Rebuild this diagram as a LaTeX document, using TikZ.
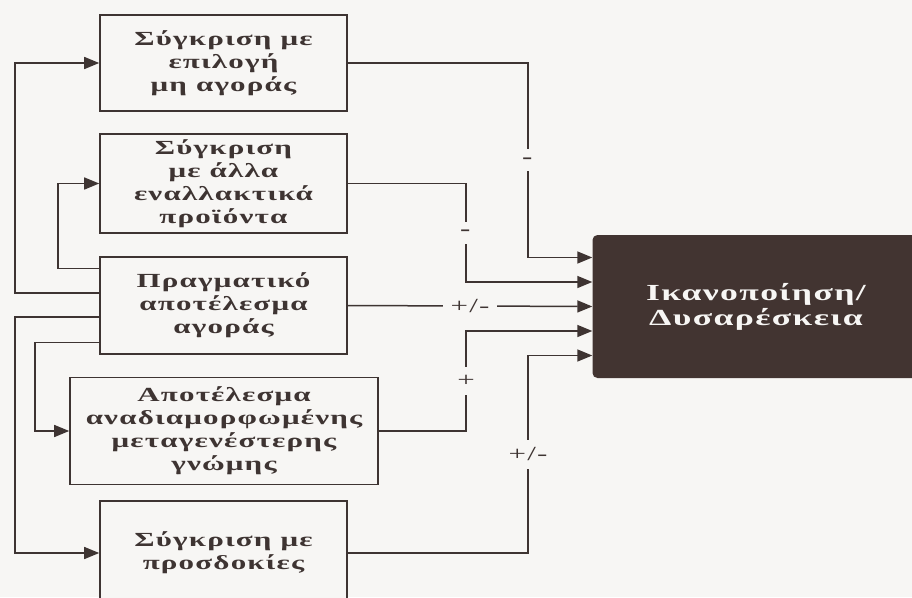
\documentclass[tikz,border=0pt]{standalone}
\usepackage{fontspec}
\setmainfont{Liberation Serif}[FakeStretch=1.55,LetterSpace=6]
\usetikzlibrary{calc,arrows.meta}
\definecolor{papel}{RGB}{247,246,244}
\definecolor{tinta}{RGB}{62,52,50}
\definecolor{escuro}{RGB}{66,52,49}

\begin{document}
\begin{tikzpicture}[x=1pt,y=-1pt,
  caixa/.style={draw=tinta, line width=1.6pt, fill=papel, text=tinta,
    font=\bfseries\fontsize{20}{23}\selectfont, align=center,
    inner sep=0pt, minimum width=247pt},
  fluxo/.style={draw=tinta, line width=1.5pt,
    -{Stealth[inset=0pt,length=15pt,width=12pt]}},
  sinal/.style={fill=papel, text=tinta, font=\fontsize{20}{22}\selectfont,
    inner sep=8pt}]
  \useasboundingbox (0,0) rectangle (912,597);
  \fill[papel] (0,0) rectangle (912,597);
  \begin{scope}
  \clip (0,0) rectangle (912,597);

  % Caixas da esquerda, de cima para baixo.
  \node[caixa, minimum height=96pt] (naoCompra) at (223.5,63)
    {Σύγκριση με\\επιλογή\\μη αγοράς};
  \node[caixa, minimum height=99pt] (alternativas) at (223.5,183.5)
    {Σύγκριση\\με άλλα\\εναλλακτικά\\προϊόντα};
  \node[caixa, minimum height=97pt] (real) at (223.5,305.5)
    {Πραγματικό\\αποτέλεσμα\\αγοράς};
  \node[caixa, minimum width=308pt, minimum height=107pt] (revisto) at (224,431)
    {Αποτέλεσμα\\αναδιαμορφωμένης\\μεταγενέστερης\\γνώμης};
  \node[caixa, minimum height=104pt] (expectativas) at (223.5,553)
    {Σύγκριση με\\προσδοκίες};

  % Caixa escura do resultado, cortada pela margem direita.
  \node[fill=escuro, rounded corners=5pt, minimum width=327pt,
    minimum height=143pt, text=papel, align=center,
    font=\bfseries\fontsize{23}{25}\selectfont] (satisf) at (756,306.5)
    {Ικανοποίηση/\\Δυσαρέσκεια};

  % Pontos de saída e de entrada nas caixas.
  \foreach \k/\dy in {1/37,2/12.5,3/-11.5,4/-37}
    \coordinate (saida\k) at ([yshift=\dy pt]real.west);
  \foreach \k/\dy in {1/49,2/24.5,3/0,4/-24.5,5/-49}
    \coordinate (entrada\k) at ([yshift=\dy pt]satisf.west);
  \coordinate (colE) at (15,0);
  \coordinate (colM) at (35,0);
  \coordinate (colI) at (58,0);
  \coordinate (colA) at (466,0);
  \coordinate (colB) at (528,0);

  % Retornos pela esquerda.
  \draw[fluxo] (saida2) -- (saida2 -| colE) |- (naoCompra.west);
  \draw[fluxo] (saida1) -- (saida1 -| colI) |- (alternativas.west);
  \draw[fluxo] (saida3) -- (saida3 -| colE) |- (expectativas.west);
  \draw[fluxo] (saida4) -- (saida4 -| colM) |- (revisto.west);

  % Ligações para a caixa escura, com os sinais.
  \draw[fluxo] (naoCompra.east) -- (naoCompra.east -| colB)
    -- node[sinal] {\textbf{-}} (colB |- entrada1) -- (entrada1);
  \draw[fluxo] (alternativas.east) -- (alternativas.east -| colA)
    -- node[sinal] {\textbf{-}} (colA |- entrada2) -- (entrada2);
  \draw[fluxo] (real.east) -- node[sinal] {+/-} (entrada3);
  \draw[fluxo] (revisto.east) -- (revisto.east -| colA)
    -- node[sinal] {+} (colA |- entrada4) -- (entrada4);
  \draw[fluxo] (expectativas.east) -- (expectativas.east -| colB)
    -- node[sinal] {+/-} (colB |- entrada5) -- (entrada5);
  \end{scope}
\end{tikzpicture}
\end{document}
